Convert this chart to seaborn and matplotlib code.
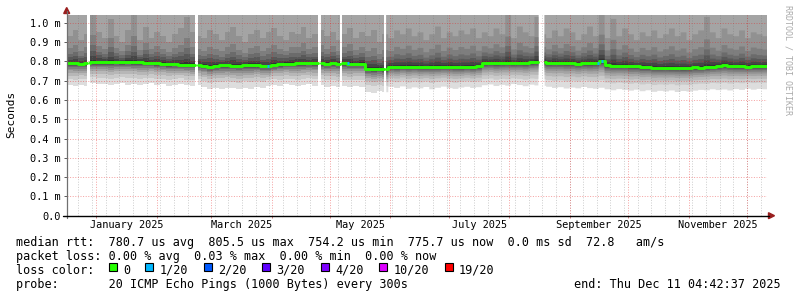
import numpy as np
import pandas as pd
import matplotlib
matplotlib.use("Agg")
import matplotlib.pyplot as plt
import matplotlib.transforms as mtransforms
from matplotlib.patches import Polygon, Rectangle
from matplotlib.lines import Line2D
import seaborn as sns

# ---------------- data ----------------
graph_start = "2024-12-16 20:40"
graph_end = "2025-12-11 04:42:37"
series_start = "2024-12-16 21:00"
step_hours = 72  # one value per 3 days

# median rtt (ms)
median_ms = [
    0.789, 0.790, 0.787, 0.789,
    0.795, 0.796, 0.795, 0.794, 0.796, 0.795, 0.797, 0.794, 0.795, 0.793,
    0.792, 0.790, 0.787, 0.785, 0.786, 0.783, 0.782, 0.781, 0.780,
    0.777, 0.772, 0.776, 0.779, 0.780, 0.778, 0.777, 0.779, 0.781, 0.780,
    0.776, 0.774, 0.780, 0.785, 0.788, 0.787, 0.790, 0.789, 0.791, 0.790, 0.790,
    0.787, 0.790, 0.788, 0.790, 0.787, 0.786, 0.787, 0.762, 0.758, 0.762, 0.758,
    0.772, 0.770, 0.773, 0.772, 0.773, 0.771, 0.770, 0.772, 0.771, 0.772,
    0.773, 0.771, 0.769, 0.772, 0.771, 0.775,
    0.790, 0.791, 0.789, 0.790, 0.792, 0.789, 0.791, 0.790, 0.794, 0.797, 0.795,
    0.791, 0.793, 0.792, 0.791, 0.791, 0.788, 0.790, 0.789, 0.792, 0.801,
    0.779, 0.778, 0.777, 0.778, 0.775, 0.774, 0.771, 0.770, 0.767, 0.766,
    0.767, 0.765, 0.766, 0.764, 0.766, 0.768, 0.767, 0.771, 0.773, 0.776,
    0.779, 0.777, 0.774, 0.775, 0.773, 0.775, 0.774, 0.776,
]
# fastest ping of each interval (ms)
min_ms = [
    0.675, 0.672, 0.678, 0.674,
    0.686, 0.680, 0.684, 0.676, 0.682, 0.688, 0.679, 0.683, 0.675, 0.681,
    0.686, 0.677, 0.680, 0.672, 0.678, 0.683, 0.676, 0.674, 0.679,
    0.668, 0.655, 0.662, 0.658, 0.664, 0.660, 0.654, 0.663, 0.659, 0.665, 0.661,
    0.672, 0.678, 0.674, 0.680, 0.676, 0.670, 0.677, 0.681, 0.673, 0.675,
    0.668, 0.672, 0.665, 0.670, 0.667, 0.671, 0.669,
    0.642, 0.638, 0.645, 0.640,
    0.668, 0.662, 0.670, 0.658, 0.665, 0.660, 0.667, 0.655, 0.663, 0.669,
    0.661, 0.657, 0.664, 0.668, 0.662, 0.666,
    0.676, 0.680, 0.672, 0.678, 0.674, 0.682, 0.677, 0.671, 0.679, 0.675, 0.673,
    0.668, 0.662, 0.666, 0.659, 0.664, 0.660, 0.667, 0.661, 0.658, 0.663,
    0.655, 0.650, 0.656, 0.652, 0.648, 0.653, 0.645, 0.650, 0.642, 0.647,
    0.644, 0.649, 0.641, 0.646, 0.643, 0.648, 0.652, 0.650, 0.655, 0.651,
    0.654, 0.649, 0.656, 0.652, 0.658, 0.653, 0.657, 0.655,
]
# 16th of 20 sorted pings (upper edge of the darker smoke) (ms)
p16_ms = [
    0.93, 0.96, 0.91, 0.94,
    1.05, 0.95, 0.92, 1.02, 0.93, 0.90, 0.96, 1.04, 0.91, 0.98,
    0.92, 0.95, 0.93, 0.90, 0.94, 0.97, 1.03, 0.95, 0.93,
    0.92, 0.96, 0.94, 0.91, 0.95, 0.98, 0.93, 0.90, 0.94, 0.96, 0.92,
    0.95, 0.97, 0.93, 0.91, 0.95, 0.94, 0.98, 0.92, 0.94, 0.96,
    0.93, 0.95, 0.91, 0.94, 0.97, 0.92, 0.95, 0.93, 0.96, 0.90, 0.94,
    0.92, 0.96, 0.94, 0.97, 0.93, 0.95, 0.91, 0.94, 0.98, 0.92,
    0.95, 0.93, 0.96, 0.94, 0.97, 0.92,
    0.95, 0.93, 0.97, 0.94, 1.04, 0.92, 0.98, 0.95, 0.93, 1.03, 0.94,
    0.92, 0.96, 0.93, 0.97, 0.95, 0.91, 0.94, 0.98, 0.93, 1.05,
    0.92, 1.02, 0.93, 0.97, 0.94, 0.91, 0.95, 0.93, 0.96, 0.92,
    0.94, 0.97, 0.93, 0.95, 0.91, 0.94, 0.96, 1.03, 0.95, 0.92,
    0.97, 0.94, 0.93, 0.96, 0.92, 0.95, 0.94, 0.93,
]
# where the other sorted pings sit (fraction of distance from median)
lower_rank_frac = [1.00, 0.72, 0.55, 0.42, 0.32, 0.24, 0.17, 0.11, 0.06, 0.02]  # p1..p10
upper_rank_frac = [0.05, 0.13, 0.23, 0.35, 0.55, 1.00]                          # p11..p16
offscale_ms = 1.5   # p17..p20 lie above the top of the axis

# periods without data
missing = [
    ("2024-12-27 14:00", "2024-12-28 14:00"),
    ("2025-02-20 20:00", "2025-02-22 02:00"),
    ("2025-04-25 02:00", "2025-04-26 00:00"),
    ("2025-05-06 04:00", "2025-05-07 02:00"),
    ("2025-05-28 18:00", "2025-05-29 18:00"),
    ("2025-08-15 23:00", "2025-08-19 00:00"),
]
# intervals with packet loss
loss_time = ["2025-03-29 12:00", "2025-05-09 12:00", "2025-09-15 00:00", "2025-09-17 02:00"]
loss_count = [1, 1, 1, 1]

loss_labels = ["0", "1/20", "2/20", "3/20", "4/20", "10/20", "19/20"]
loss_thresholds = [0, 1, 2, 3, 4, 10, 19]
loss_colors = ["#26ff00", "#00b8ff", "#0059ff", "#5e00ff", "#7e00ff", "#dd00ff", "#ff0000"]

y_ticks = [0.0, 0.1, 0.2, 0.3, 0.4, 0.5, 0.6, 0.7, 0.8, 0.9, 1.0]
y_tick_labels = ["0.0", "0.1 m", "0.2 m", "0.3 m", "0.4 m", "0.5 m",
                 "0.6 m", "0.7 m", "0.8 m", "0.9 m", "1.0 m"]
x_label_months = ["2025-01", "2025-03", "2025-05", "2025-07", "2025-09", "2025-11"]
x_labels = ["January 2025", "March 2025", "May 2025", "July 2025",
            "September 2025", "November 2025"]

row_median = "median rtt:  780.7 us avg  805.5 us max  754.2 us min  775.7 us now  0.0 ms sd  72.8   am/s"
row_loss = "packet loss: 0.00 % avg  0.03 % max  0.00 % min  0.00 % now"
row_color = "loss color:"
row_probe = "probe:       20 ICMP Echo Pings (1000 Bytes) every 300s"
row_end = "end: Thu Dec 11 04:42:37 2025"
y_title = "Seconds"
watermark = "RRDTOOL / TOBI OETIKER"

# ---------------- drawing ----------------
sns.set_theme(style="white")
plt.rcParams["font.family"] = ["DejaVu Sans Mono", "DejaVu Sans"]

W, H = 797, 297
fig = plt.figure(figsize=(W / 100, H / 100), dpi=100)
fig.patch.set_facecolor("white")
ax = fig.add_axes([66.7 / W, (H - 215.7) / H, 700.3 / W, 201.0 / H])
ax.set_facecolor("white")
for s in ax.spines.values():
    s.set_visible(False)

n = len(median_ms)
sub = 12
t0 = pd.Timestamp(series_start)
ft = t0 + pd.to_timedelta(np.arange(n * sub + 1) * (step_hours / sub), unit="h")


def fine(a):
    v = np.repeat(np.asarray(a, float), sub)
    return np.append(v, v[-1])


med = fine(median_ms)
mn = fine(min_ms)
p16 = fine(p16_ms)
gap = np.zeros(len(ft), bool)
for a, b in missing:
    gap |= (ft >= pd.Timestamp(a)) & (ft < pd.Timestamp(b))
med[gap] = np.nan
mn[gap] = np.nan
p16[gap] = np.nan

lower = [med - f * (med - mn) for f in lower_rank_frac]
upper = [med + g * (p16 - med) for g in upper_rank_frac] + [np.where(gap, np.nan, offscale_ms)] * 4
x = ft.to_numpy()

for i in range(10):
    level = int(190 / 10 * (10 - (i + 1)) + 50)
    col = "#%02x%02x%02x" % (level, level, level)
    ax.fill_between(x, lower[i], upper[9 - i], step="post", color=col, lw=0, zorder=1)

# grid (dotted)
minor_col = (0.45, 0.45, 0.45, 0.35)
major_col = (0.9, 0.1, 0.1, 0.4)
dot = (0, (1, 1.6))
for d in pd.date_range(graph_start, graph_end, freq="W-SUN"):
    ax.axvline(d, color=minor_col, lw=0.72, ls=dot, zorder=3)
month_starts = pd.date_range("2025-01-01", graph_end, freq="MS")
for d in month_starts:
    ax.axvline(d, color=major_col, lw=0.72, ls=dot, zorder=3)
for yv in y_ticks[1:]:
    ax.axhline(yv, color=major_col, lw=0.72, ls=dot, zorder=3)

# median line, split at data gaps
valid = ~np.isnan(med)
idx = np.flatnonzero(valid)
runs = np.split(idx, np.where(np.diff(idx) != 1)[0] + 1)
for r in runs:
    df = pd.DataFrame({"t": x[r], "rtt": med[r]})
    sns.lineplot(data=df, x="t", y="rtt", drawstyle="steps-post", color=loss_colors[0],
                 lw=2.1, estimator=None, sort=False, legend=False, ax=ax, zorder=5)

# loss coloured pieces of the median
for tm, c in zip(loss_time, loss_count):
    t1 = pd.Timestamp(tm)
    k = int((t1 - t0) / pd.Timedelta(hours=step_hours))
    j = max(i for i, th in enumerate(loss_thresholds) if th <= c)
    ax.plot([t1, t1 + pd.Timedelta(hours=24)], [median_ms[k]] * 2, color=loss_colors[j],
            lw=2.1, solid_capstyle="butt", zorder=6)

ax.set_xlim(pd.Timestamp(graph_start), pd.Timestamp(graph_end))
ax.set_ylim(0, 1.0415)
ax.set_xlabel("")
ax.set_ylabel("")
ax.set_yticks(y_ticks)
ax.set_yticklabels(y_tick_labels, fontsize=7.35, color="black")
ax.tick_params(axis="y", left=True, length=2.2, width=0.72, color="#606060", pad=2.0)
ax.set_xticks(month_starts)
ax.set_xticklabels([])
ax.tick_params(axis="x", bottom=True, length=1.6, width=0.72, color="#d08080", pad=0)

# month labels centred in their month
blend = mtransforms.blended_transform_factory(ax.transData, fig.transFigure)
for m, lab in zip(x_label_months, x_labels):
    a = pd.Timestamp(m + "-01")
    b = a + pd.offsets.MonthBegin(1)
    ax.text(a + (b - a) / 2, 1 - 228.5 / H, lab, transform=blend, ha="center",
            va="baseline", fontsize=7.35, color="black", clip_on=False)

# axis lines and arrows (figure pixel coordinates)
ident = mtransforms.IdentityTransform()
fig.add_artist(Line2D([66.7, 66.7], [H - 218, H - 11], color="#707070", lw=0.9, transform=ident))
fig.add_artist(Line2D([63, 769], [H - 215.7, H - 215.7], color="black", lw=1.0, transform=ident))
arrow_col = "#9a1f1f"
fig.add_artist(Polygon([(63.7, H - 13.5), (69.7, H - 13.5), (66.7, H - 7.5)], closed=True,
                       color=arrow_col, transform=ident))
fig.add_artist(Polygon([(768.5, H - 212.7), (768.5, H - 218.7), (774.5, H - 215.7)], closed=True,
                       color=arrow_col, transform=ident))

# texts
fs = 8.43
fig.text(10.8 / W, 1 - 114 / H, y_title, rotation=90, ha="center", va="center", fontsize=8, color="black")
fig.text(788 / W, 1 - 60 / H, watermark, rotation=270, ha="center", va="center",
         fontsize=6, color="#aaaaaa")
fig.text(15.5 / W, 1 - 245.7 / H, row_median, fontsize=fs, va="baseline", ha="left", color="black")
fig.text(15.5 / W, 1 - 259.8 / H, row_loss, fontsize=fs, va="baseline", ha="left", color="black")
fig.text(15.5 / W, 1 - 273.9 / H, row_color, fontsize=fs, va="baseline", ha="left", color="black")
fig.text(15.5 / W, 1 - 288.0 / H, row_probe, fontsize=fs, va="baseline", ha="left", color="black")
fig.text(781 / W, 1 - 288.0 / H, row_end, fontsize=fs, va="baseline", ha="right", color="black")

col = 13
adv = 7.3
for lab, c in zip(loss_labels, loss_colors):
    bx = 14 + col * adv
    fig.add_artist(Rectangle((bx, H - 271.2), 8, 8, facecolor=c, edgecolor="black", lw=0.8,
                             transform=ident))
    fig.text((bx + 14.3) / W, 1 - 273.9 / H, lab, fontsize=fs, va="baseline", ha="left", color="black")
    col += len(lab) + 4

fig.savefig("out.png", dpi=100, facecolor="white")
